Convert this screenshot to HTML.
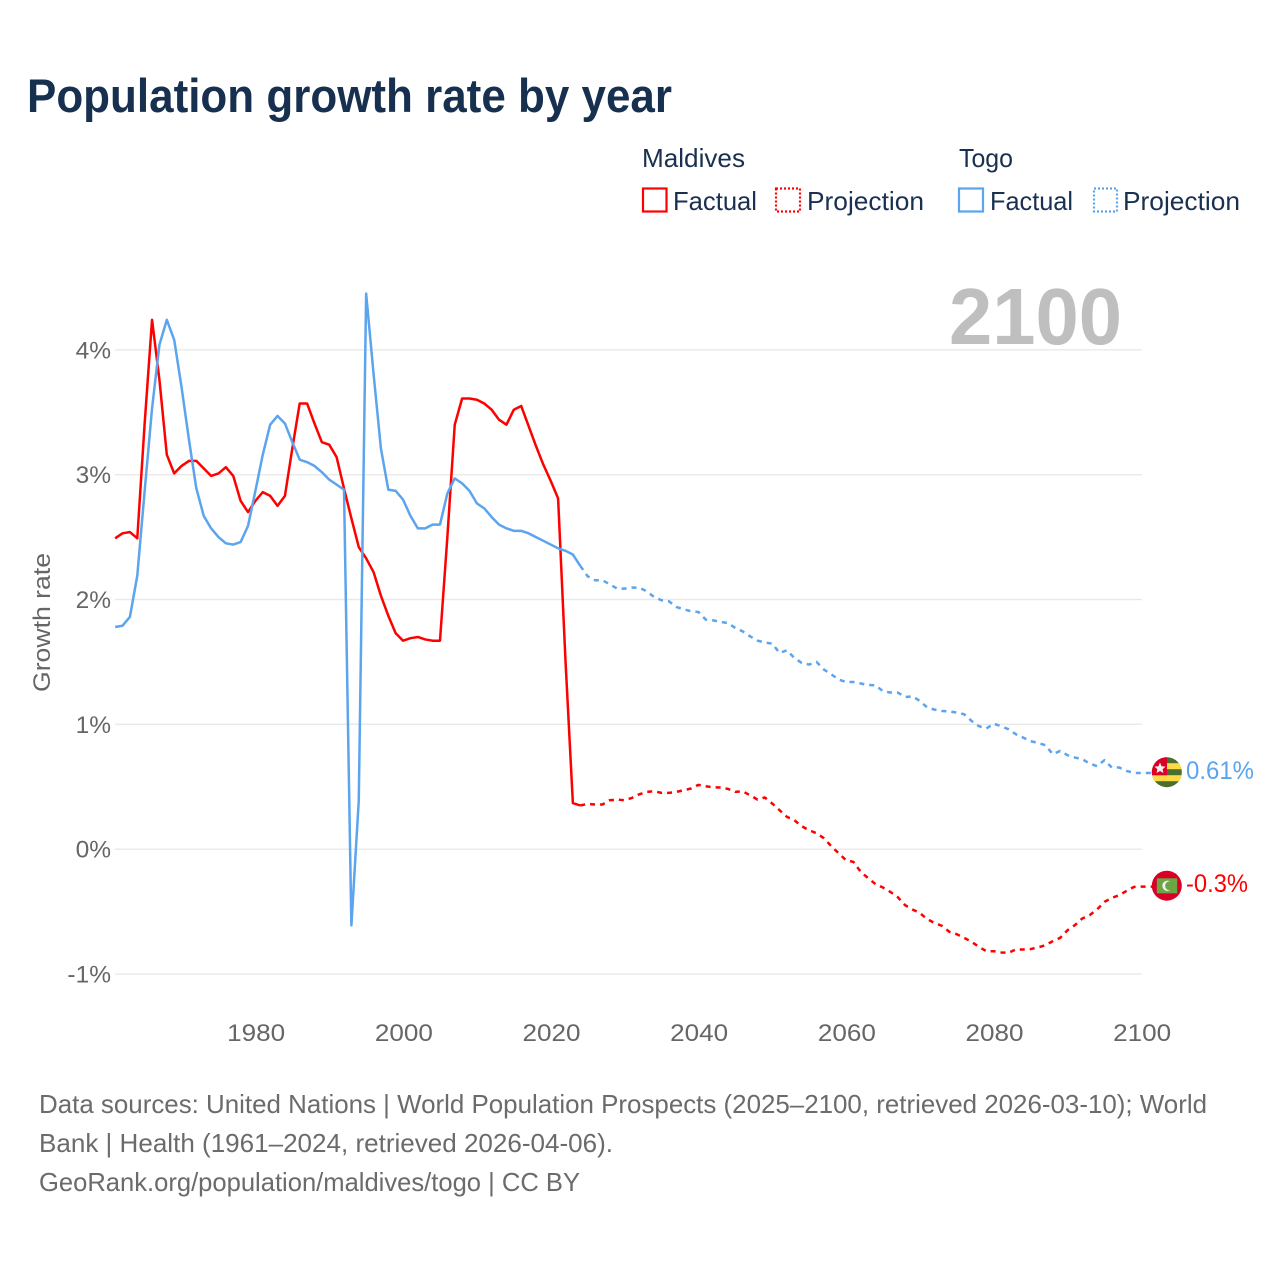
<!DOCTYPE html>
<html lang="en">
<head>
<meta charset="utf-8">
<title>Population growth rate by year</title>
<style>
html,body{margin:0;padding:0;background:#fff;}
svg{display:block;font-family:"Liberation Sans",sans-serif;}
.leg{font-size:26px;fill:#1a3050;}
.foot{font-size:26px;fill:#6b6b6b;}
.tick{font-size:24.5px;fill:#666;}
</style>
</head>
<body>
<svg id="chart" width="1280" height="1280" viewBox="0 0 1280 1280" xmlns="http://www.w3.org/2000/svg">
  <defs>
    <clipPath id="clip-togo"><circle cx="1166.8" cy="772.2" r="15"/></clipPath>
    <clipPath id="clip-mdv"><circle cx="1166.8" cy="885.7" r="15"/></clipPath>
  </defs>
  <rect width="1280" height="1280" fill="#fff"/>
  <text x="27" y="112" font-size="47" font-weight="700" fill="#17304f" textLength="645" lengthAdjust="spacingAndGlyphs">Population growth rate by year</text>

  <g>
    <text class="leg" x="642" y="167" textLength="103" lengthAdjust="spacingAndGlyphs">Maldives</text>
    <text class="leg" x="959" y="167" textLength="54" lengthAdjust="spacingAndGlyphs">Togo</text>
    <rect x="643" y="188.5" width="23.5" height="23" fill="none" stroke="#ff0000" stroke-width="2.2"/>
    <text class="leg" x="673" y="210" textLength="84" lengthAdjust="spacingAndGlyphs">Factual</text>
    <rect x="776" y="188.5" width="24" height="23" fill="none" stroke="#ff0000" stroke-width="2.2" stroke-dasharray="2 2"/>
    <text class="leg" x="807" y="210" textLength="117" lengthAdjust="spacingAndGlyphs">Projection</text>
    <rect x="959" y="188.5" width="24" height="23" fill="none" stroke="#5ba4ee" stroke-width="2.2"/>
    <text class="leg" x="990" y="210" textLength="83" lengthAdjust="spacingAndGlyphs">Factual</text>
    <rect x="1094" y="188.5" width="23" height="23" fill="none" stroke="#5ba4ee" stroke-width="2.2" stroke-dasharray="2 2"/>
    <text class="leg" x="1123" y="210" textLength="117" lengthAdjust="spacingAndGlyphs">Projection</text>
  </g>

  <text transform="translate(50 622.5) rotate(-90)" text-anchor="middle" font-size="24.5" fill="#666" textLength="139" lengthAdjust="spacingAndGlyphs">Growth rate</text>

  <g id="grid"></g>
  <g id="xticks"></g>
  <text x="949" y="344" font-size="80" font-weight="700" fill="#bfbfbf" textLength="173" lengthAdjust="spacingAndGlyphs">2100</text>
  <g id="series"></g>

  <g clip-path="url(#clip-togo)">
    <rect x="1151" y="757" width="32" height="31" fill="#496e2d"/>
    <rect x="1151" y="763.2" width="32" height="6" fill="#ffda44"/>
    <rect x="1151" y="775.2" width="32" height="6" fill="#ffda44"/>
    <rect x="1151" y="757" width="16" height="18.2" fill="#d80027"/>
    <polygon points="1160,762.5 1161.6,766.2 1165.6,766.6 1162.6,769.2 1163.5,773 1160,771 1156.5,773 1157.4,769.2 1154.4,766.6 1158.4,766.2" fill="#f0f0f0"/>
  </g>
  <g clip-path="url(#clip-mdv)">
    <rect x="1151" y="870" width="32" height="32" fill="#d80027"/>
    <rect x="1156.8" y="878.3" width="20.4" height="15" fill="#6da544"/>
    <circle cx="1167.5" cy="885.8" r="5.2" fill="#f0f0f0"/>
    <circle cx="1169.7" cy="885.8" r="4.6" fill="#6da544"/>
  </g>
  <text x="1186" y="779" font-size="25" fill="#5ba4ee" textLength="68" lengthAdjust="spacingAndGlyphs">0.61%</text>
  <text x="1186" y="892" font-size="25" fill="#ff0000" textLength="62" lengthAdjust="spacingAndGlyphs">-0.3%</text>

  <g>
    <text class="foot" x="39" y="1113" textLength="1168" lengthAdjust="spacingAndGlyphs">Data sources: United Nations | World Population Prospects (2025–2100, retrieved 2026-03-10); World</text>
    <text class="foot" x="39" y="1152" textLength="574" lengthAdjust="spacingAndGlyphs">Bank | Health (1961–2024, retrieved 2026-04-06).</text>
    <text class="foot" x="39" y="1191" textLength="541" lengthAdjust="spacingAndGlyphs">GeoRank.org/population/maldives/togo | CC BY</text>
  </g>
</svg>
<script>
const factualStartYear = 1961;
const projectionStartYear = 2025;
const yTickValues = [4, 3, 2, 1, 0, -1];
const yTickLabels = ['4%', '3%', '2%', '1%', '0%', '-1%'];
const xTickValues = [1980, 2000, 2020, 2040, 2060, 2080, 2100];
const xTickLabels = ['1980', '2000', '2020', '2040', '2060', '2080', '2100'];

const maldivesFactual = [
  2.49,2.53,2.54,2.49,3.41,4.24,3.76,3.16,3.01,3.07,
  3.11,3.11,3.05,2.99,3.01,3.06,2.99,2.79,2.70,2.79,
  2.86,2.83,2.75,2.83,3.21,3.57,3.57,3.41,3.26,3.24,
  3.14,2.89,2.65,2.42,2.33,2.22,2.03,1.87,1.73,1.67,
  1.69,1.70,1.68,1.67,1.67,2.50,3.40,3.61,3.61,3.60,
  3.57,3.52,3.44,3.40,3.52,3.55,3.39,3.23,3.08,2.95,
  2.81,1.51,0.37,0.35
];
const maldivesProjection = [
  0.363,0.358,0.358,0.392,0.398,0.392,0.411,0.44,0.459,0.464,
  0.451,0.451,0.459,0.472,0.486,0.515,0.504,0.496,0.494,0.483,
  0.459,0.464,0.432,0.398,0.414,0.366,0.312,0.259,0.232,0.184,
  0.152,0.128,0.088,0.024,-0.032,-0.088,-0.102,-0.182,-0.232,-0.28,
  -0.307,-0.342,-0.384,-0.448,-0.483,-0.512,-0.56,-0.592,-0.614,-0.662,
  -0.681,-0.71,-0.742,-0.782,-0.817,-0.817,-0.827,-0.83,-0.803,-0.803,
  -0.80,-0.787,-0.769,-0.737,-0.71,-0.649,-0.608,-0.555,-0.528,-0.483,
  -0.422,-0.39,-0.368,-0.334,-0.302,-0.30
];
const togoFactual = [
  1.78,1.79,1.86,2.19,2.87,3.53,4.04,4.24,4.08,3.70,
  3.28,2.89,2.67,2.57,2.50,2.45,2.44,2.46,2.59,2.87,
  3.16,3.40,3.47,3.41,3.26,3.12,3.10,3.07,3.02,2.96,
  2.92,2.88,-0.61,0.39,4.45,3.81,3.21,2.88,2.87,2.80,
  2.67,2.57,2.57,2.60,2.60,2.85,2.97,2.93,2.87,2.77,
  2.73,2.66,2.60,2.57,2.55,2.55,2.53,2.50,2.47,2.44,
  2.41,2.39,2.36,2.27
];
const togoProjection = [
  2.186,2.154,2.154,2.122,2.087,2.087,2.095,2.095,2.066,2.02,
  1.994,1.986,1.94,1.922,1.906,1.90,1.839,1.833,1.82,1.812,
  1.772,1.745,1.705,1.671,1.655,1.647,1.572,1.593,1.532,1.492,
  1.479,1.50,1.439,1.401,1.359,1.339,1.339,1.327,1.315,1.313,
  1.265,1.255,1.255,1.219,1.225,1.187,1.135,1.118,1.107,1.103,
  1.094,1.081,1.027,0.985,0.966,1.006,0.985,0.961,0.921,0.894,
  0.865,0.851,0.833,0.761,0.787,0.753,0.734,0.721,0.686,0.665,
  0.713,0.654,0.654,0.627,0.611,0.61
];

const NS = 'http://www.w3.org/2000/svg';
function xScale(year) { return 255.4 + (year - 1980) * 7.383; }
function yScale(v) { return 849.2 - v * 124.85; }
function make(tag, parent) {
  const el = document.createElementNS(NS, tag);
  parent.appendChild(el);
  return el;
}
function pathFrom(startYear, values, prefix) {
  let d = prefix || '';
  values.forEach(function (v, i) {
    const cmd = (d === '') ? 'M' : 'L';
    d += cmd + xScale(startYear + i).toFixed(2) + ' ' + yScale(v).toFixed(2) + ' ';
  });
  return d;
}

const grid = document.getElementById('grid');
yTickValues.forEach(function (v, i) {
  const line = make('line', grid);
  
  
  line.setAttribute('x1', 115);
  line.setAttribute('x2', 1142);
  line.setAttribute('y1', yScale(v));
  line.setAttribute('y2', yScale(v));
  line.setAttribute('stroke', '#e9e9e9');
  line.setAttribute('stroke-width', 1.4);
  const t = make('text', grid);
  
  
  t.setAttribute('class', 'tick');
  t.setAttribute('x', 111);
  t.setAttribute('y', yScale(v) + 8.5);
  t.setAttribute('text-anchor', 'end');
  t.textContent = yTickLabels[i];
});

const xticks = document.getElementById('xticks');
xTickValues.forEach(function (year, i) {
  const t = make('text', xticks);
  
  
  t.setAttribute('class', 'tick');
  t.setAttribute('x', xScale(year) + 0.8);
  t.setAttribute('y', 1041);
  t.setAttribute('text-anchor', 'middle');
  t.setAttribute('textLength', 58);
  t.setAttribute('lengthAdjust', 'spacingAndGlyphs');
  t.textContent = xTickLabels[i];
});

const seriesGroup = document.getElementById('series');
function drawLine(d, color, dashed, name) {
  const p = make('path', seriesGroup);
  
  
  p.setAttribute('d', d);
  p.setAttribute('fill', 'none');
  p.setAttribute('stroke', color);
  p.setAttribute('stroke-width', 2.5);
  p.setAttribute('stroke-linejoin', 'round');
  if (dashed) { p.setAttribute('stroke-dasharray', '5 5'); }
}
function lastPoint(startYear, values) {
  const i = values.length - 1;
  return 'M' + xScale(startYear + i).toFixed(2) + ' ' + yScale(values[i]).toFixed(2) + ' ';
}
function flagConnector(values) {
  const last = values[values.length - 1];
  return 'L' + (xScale(2100) + 11).toFixed(2) + ' ' + yScale(last).toFixed(2);
}
drawLine(pathFrom(projectionStartYear, togoProjection, lastPoint(factualStartYear, togoFactual)) + flagConnector(togoProjection), '#5ba4ee', true, 'line-togo-projection');
drawLine(pathFrom(projectionStartYear, maldivesProjection, lastPoint(factualStartYear, maldivesFactual)) + flagConnector(maldivesProjection), '#ff0000', true, 'line-maldives-projection');
drawLine(pathFrom(factualStartYear, maldivesFactual), '#ff0000', false, 'line-maldives-factual');
drawLine(pathFrom(factualStartYear, togoFactual), '#5ba4ee', false, 'line-togo-factual');
</script>
</body>
</html>
